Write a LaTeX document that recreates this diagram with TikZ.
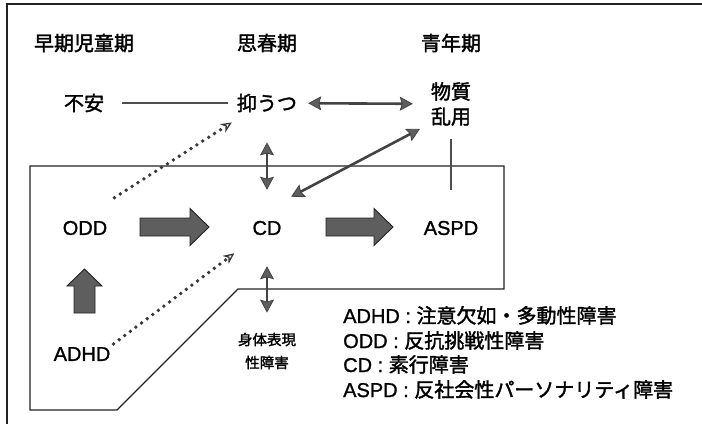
\documentclass[tikz,border=0pt]{standalone}
\usepackage{fontspec}
\setmainfont{Liberation Sans}[FakeBold=1.2]
\newfontfamily\jp{Noto Sans CJK JP}[FakeBold=1.8]
\usetikzlibrary{arrows.meta,calc}
\definecolor{ink}{HTML}{222222}
\definecolor{arrowfill}{HTML}{5E5E5E}
\begin{document}
\begin{tikzpicture}[x=1pt,y=-1pt,
  lab/.style={font=\fontsize{20}{22}\selectfont, inner sep=0pt},
  jlab/.style={font=\jp\fontsize{20}{25}\selectfont, inner sep=0pt, align=center},
  slab/.style={font=\jp\fontsize{14.5}{23}\selectfont, inner sep=0pt, align=center},
  frameline/.style={draw=ink, line width=1.4pt},
  plainline/.style={draw=ink!80, line width=2.4pt},
  dbl/.style={draw=ink!85, line width=2.6pt,
    {Stealth[length=13pt,width=14pt,inset=2pt,fill=arrowfill,line width=0.8pt]}-{Stealth[length=13pt,width=14pt,inset=2pt,fill=arrowfill,line width=0.8pt]}},
  dotarrow/.style={draw=ink!90, line width=3.8pt, line cap=round, dash pattern=on 0pt off 7pt,
    -{Stealth[open,length=11pt,width=10pt,line width=1.3pt]}},
  bigarrow/.style={draw=ink, line width=0.9pt, fill=arrowfill, line join=miter},
]
\useasboundingbox (0,0) rectangle (702,424);
\draw[frameline] (702,4) -- (7,4) -- (7,424);

% headers
\node[jlab] (h1) at (84,43) {早期児童期};
\node[jlab] (h2) at (267,43) {思春期};
\node[jlab] (h3) at (451,43) {青年期};

% row 1
\node[jlab] (anx) at (84,103) {不安};
\node[jlab] (dep) at (267,103) {抑うつ};
\node[jlab] (sub) at (451,104) {物質\\乱用};

% inner box
\draw[frameline] (30,166) -- (504,166) -- (504,289) -- (238,289) -- (117,410) -- (30,410) -- cycle;

% row 2
\node[lab] (odd) at (85,228) {ODD};
\node[lab] (cd) at (267,228) {CD};
\node[lab] (aspd) at (451,228) {ASPD};
\node[lab] (adhd) at (82,354) {ADHD};
\node[slab] (som) at (267,351) {身体表現\\性障害};

% thick arrows
\draw[bigarrow] (140,218) -- (190,218) -- (190,208.5) -- (209,227) -- (190,245.5) -- (190,236) -- (140,236) -- cycle;
\draw[bigarrow] (326,218) -- (374,218) -- (374,208.5) -- (393,227) -- (374,245.5) -- (374,236) -- (326,236) -- cycle;
\draw[bigarrow] (74,313) -- (74,286) -- (67,286) -- (84.5,269) -- (102,286) -- (95,286) -- (95,313) -- cycle;

% connectors
\draw[plainline, shorten <=18pt, shorten >=9pt] (anx) -- (dep);
\draw[dbl, shorten <=11pt, shorten >=18pt] (dep) -- (sub);
\draw[dbl] ($(dep.south)+(0,30)$) -- ($(cd.north)+(0,-31)$);
\draw[dbl] ($(cd.south)+(0,31)$) -- ($(som.north)+(0,-20)$);
\draw[dbl] ($(cd.north east)+(9.5,-24)$) -- ($(sub.south west)+(-11,3)$);
\draw[plainline, line width=2pt, shorten <=13pt, shorten >=31pt] (sub.south) -- (aspd.north);
\draw[dotarrow] ($(odd.north east)+(7,-23)$) -- ($(dep.south west)+(-5,10)$);
\draw[dotarrow] ($(adhd.north east)+(3,-3)$) -- ($(cd.south west)+(-18,18)$);

% legend
\node[lab, anchor=base west] (l1) at (343,323) {ADHD : {\jp 注意欠如・多動性障害}};
\node[lab, anchor=base west] (l2) at (343,348) {ODD : {\jp 反抗挑戦性障害}};
\node[lab, anchor=base west] (l3) at (343,372) {CD : {\jp 素行障害}};
\node[lab, anchor=base west] (l4) at (343,397) {ASPD : {\jp 反社会性パーソナリティ障害}};
\end{tikzpicture}
\end{document}
